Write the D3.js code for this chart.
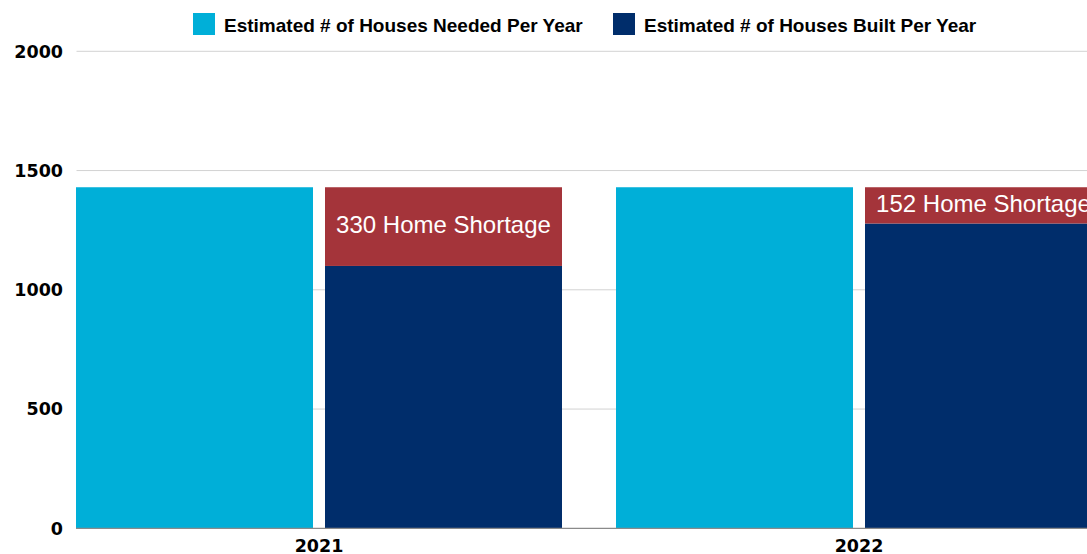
<!DOCTYPE html>
<html>
<head>
<meta charset="utf-8">
<script src="https://cdn.jsdelivr.net/npm/d3@7"></script>
<style>
  body { margin: 0; background: #fff; overflow: hidden; }
  svg { display: block; }
  .tick-label { font-family: "DejaVu Sans", sans-serif; font-weight: bold; font-size: 17.5px; fill: #000; }
  .legend-label { font-family: "Liberation Sans", Arial, sans-serif; font-weight: bold; font-size: 19px; fill: #000; }
  .bar-label { font-family: "Liberation Sans", Arial, sans-serif; font-size: 24px; fill: #fff; }
</style>
</head>
<body>
<svg width="1087" height="554"></svg>
<script>
// data
var years = ["2021", "2022"];
var needed = [1430, 1430];
var built = [1100, 1278];
var shortage = [330, 152];
var yTicks = [0, 500, 1000, 1500, 2000];
var seriesNames = ["Estimated # of Houses Needed Per Year", "Estimated # of Houses Built Per Year"];

var colors = { needed: "#00afd8", built: "#002d6b", shortage: "#a4343a" };

var svg = d3.select("svg");

var x = d3.scaleBand()
  .domain(years)
  .range([76, 1102])
  .paddingInner(0.1)
  .paddingOuter(0);

var xSub = d3.scaleBand()
  .domain(["needed", "built"])
  .range([0, x.bandwidth()])
  .paddingInner(0.0482);

var y = d3.scaleLinear()
  .domain([0, 2000])
  .range([528.3, 51.3]);

// gridlines
svg.append("g")
  .selectAll("line")
  .data(yTicks.slice(1))
  .enter().append("line")
  .attr("x1", 76.5)
  .attr("x2", 1120)
  .attr("y1", function (d) { return y(d); })
  .attr("y2", function (d) { return y(d); })
  .attr("stroke", "#d2d2d2")
  .attr("stroke-width", 1);

// y tick labels
svg.append("g")
  .selectAll("text")
  .data(yTicks)
  .enter().append("text")
  .attr("class", "tick-label")
  .attr("x", 63)
  .attr("y", function (d) { return y(d); })
  .attr("dy", "0.36em")
  .attr("text-anchor", "end")
  .text(function (d) { return d; });

var rows = years.map(function (yr, i) {
  return { year: yr, needed: needed[i], built: built[i], shortage: shortage[i] };
});

var groups = svg.append("g")
  .selectAll("g")
  .data(rows)
  .enter().append("g")
  .attr("transform", function (d) { return "translate(" + x(d.year) + ",0)"; });

groups.append("rect")
  .attr("x", xSub("needed"))
  .attr("width", xSub.bandwidth())
  .attr("y", function (d) { return y(d.needed); })
  .attr("height", function (d) { return y(0) - y(d.needed); })
  .attr("fill", colors.needed);

groups.append("rect")
  .attr("x", xSub("built"))
  .attr("width", xSub.bandwidth())
  .attr("y", function (d) { return y(d.built); })
  .attr("height", function (d) { return y(0) - y(d.built); })
  .attr("fill", colors.built);

groups.append("rect")
  .attr("x", xSub("built"))
  .attr("width", xSub.bandwidth())
  .attr("y", function (d) { return y(d.built + d.shortage); })
  .attr("height", function (d) { return y(d.built) - y(d.built + d.shortage); })
  .attr("fill", colors.shortage);

groups.append("text")
  .attr("class", "bar-label")
  .attr("x", xSub("built") + xSub.bandwidth() / 2)
  .attr("y", function (d) { return (y(d.built) + y(d.built + d.shortage)) / 2 + 6.5; })
  .attr("text-anchor", "middle")
  .text(function (d) { return d.shortage + " Home Shortage"; });

// baseline
svg.append("line")
  .attr("x1", 76)
  .attr("x2", 1102)
  .attr("y1", y(0))
  .attr("y2", y(0))
  .attr("stroke", "#8a8a8a")
  .attr("stroke-width", 1.2);

// x labels
svg.append("g")
  .selectAll("text")
  .data(years)
  .enter().append("text")
  .attr("class", "tick-label")
  .attr("x", function (d) { return x(d) + x.bandwidth() / 2; })
  .attr("y", 552)
  .attr("text-anchor", "middle")
  .text(function (d) { return d; });

// legend
var legendX = [193, 613];
var legendColors = [colors.needed, colors.built];
var legend = svg.append("g")
  .selectAll("g")
  .data(seriesNames)
  .enter().append("g")
  .attr("transform", function (d, i) { return "translate(" + legendX[i] + ",13)"; });

legend.append("rect")
  .attr("width", 22)
  .attr("height", 22)
  .attr("fill", function (d, i) { return legendColors[i]; });

legend.append("text")
  .attr("class", "legend-label")
  .attr("x", 31)
  .attr("y", 18.5)
  .text(function (d) { return d; });
</script>
</body>
</html>
